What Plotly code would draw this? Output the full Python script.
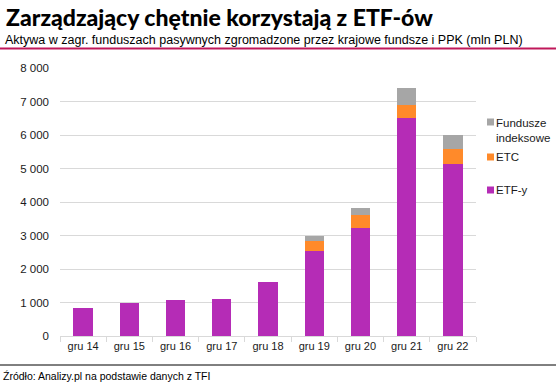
import plotly.graph_objects as go

categories = ["gru 14", "gru 15", "gru 16", "gru 17", "gru 18", "gru 19", "gru 20", "gru 21", "gru 22"]
etf = [840, 990, 1080, 1110, 1620, 2545, 3235, 6500, 5120]
etc = [0, 0, 0, 0, 0, 280, 380, 400, 460]
fundusze = [0, 0, 0, 0, 0, 170, 220, 500, 410]
y_ticks = [0, 1000, 2000, 3000, 4000, 5000, 6000, 7000, 8000]
series_names = ["ETF-y", "ETC", "Fundusze<br>indeksowe"]

PURPLE = "#B52CB6"
ORANGE = "#FF8A2A"
GRAY = "#A6A6A6"
colors = [PURPLE, ORANGE, GRAY]

W, H = 556, 384
L, R, T, B = 60, 80, 68, 48
PW, PH = W - L - R, H - T - B


def px_x(x):
    return (x - L) / PW


def px_y(y):
    return (H - B - y) / PH


fig = go.Figure()
for vals, name, col in zip([etf, etc, fundusze], series_names, colors):
    fig.add_trace(go.Bar(x=categories, y=vals, name=name, marker=dict(color=col, line_width=0),
                         showlegend=False))

fig.update_layout(
    width=W, height=H,
    barmode="stack", bargap=0.58,
    paper_bgcolor="white", plot_bgcolor="white",
    margin=dict(l=L, r=R, t=T, b=B),
    separators=", ",
    font=dict(family="Liberation Sans, Arial, sans-serif", size=12, color="#1a1a1a"),
    xaxis=dict(showgrid=False, showline=True, linecolor="#D9D9D9", linewidth=1,
               ticks="outside", tickson="boundaries", ticklen=5, tickcolor="#D9D9D9",
               tickangle=0, tickfont=dict(size=11, color="#1a1a1a")),
    yaxis=dict(range=[0, 8000], tickvals=y_ticks, tickformat=",d", showgrid=True,
               gridcolor="#D9D9D9", gridwidth=1, zeroline=False, showline=False,
               ticks="", tickfont=dict(size=11.5, color="#1a1a1a"), ticklabelstandoff=10),
)

# manual legend (top to bottom: Fundusze indeksowe, ETC, ETF-y)
legend_y = [130, 157, 190]
for name, col, ly in zip(series_names[::-1], colors[::-1], legend_y):
    sq_y = ly - 8 if "<br>" in name else ly
    fig.add_shape(type="rect", xref="paper", yref="paper",
                  x0=px_x(487), x1=px_x(494), y0=px_y(sq_y + 3.5), y1=px_y(sq_y - 3.5),
                  fillcolor=col, line_width=0)
    fig.add_annotation(text=name, xref="paper", yref="paper", x=px_x(494), xanchor="left",
                       y=px_y(ly), yanchor="middle", showarrow=False, align="left",
                       font=dict(family="Liberation Sans, Arial, sans-serif", size=11.5, color="#1a1a1a"))

fig.add_annotation(text="Zarządzający chętnie korzystają z ETF-ów", xref="paper", yref="paper",
                   x=px_x(4), xanchor="left", y=px_y(17), yanchor="middle",
                   showarrow=False,
                   font=dict(family="Lato, Roboto, sans-serif", size=23, weight=900, color="#000"))
fig.add_annotation(text="Aktywa w zagr. funduszach pasywnych zgromadzone przez krajowe fundsze i PPK (mln PLN)",
                   xref="paper", yref="paper", x=px_x(3), xanchor="left",
                   y=px_y(40), yanchor="middle", showarrow=False,
                   font=dict(family="Liberation Sans, Arial, sans-serif", size=12.5, color="#000"))
fig.add_annotation(text="Źródło: Analizy.pl na podstawie danych z TFI", xref="paper", yref="paper",
                   x=px_x(1), xanchor="left", y=px_y(376), yanchor="middle",
                   showarrow=False,
                   font=dict(family="Liberation Sans, Arial, sans-serif", size=10.5, color="#000"))
fig.add_shape(type="line", xref="paper", yref="paper", x0=px_x(0), x1=px_x(W),
              y0=px_y(48.5), y1=px_y(48.5), line=dict(color="#C0185A", width=2))
fig.add_shape(type="line", xref="paper", yref="paper", x0=px_x(0), x1=px_x(W),
              y0=px_y(365), y1=px_y(365), line=dict(color="#000", width=1))

fig.write_html("out.html", config={"displayModeBar": False},
               post_script="document.body.style.margin='0';")
